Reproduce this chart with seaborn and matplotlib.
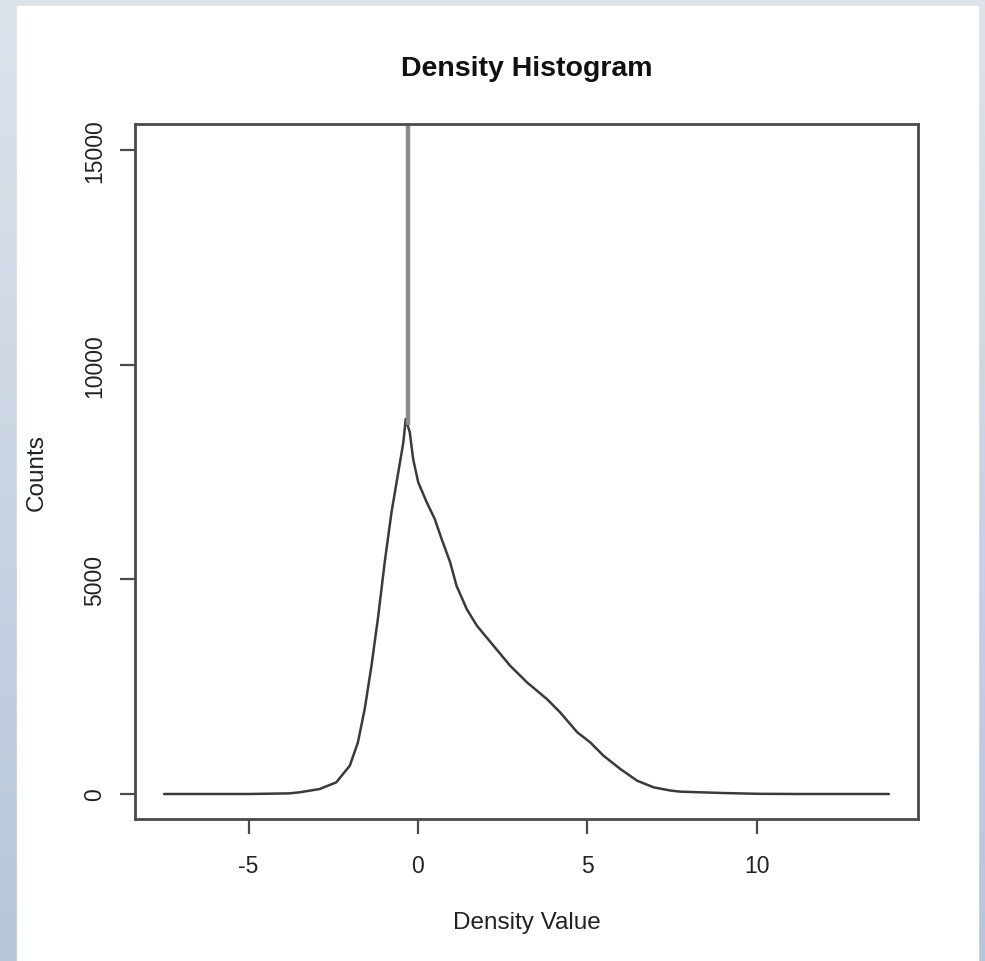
import numpy as np
import pandas as pd
import matplotlib
matplotlib.use("Agg")
import matplotlib.pyplot as plt
import seaborn as sns

# --- DATA ---
density_value = [-7.49, -5.0, -3.80, -3.49, -2.90, -2.41, -2.01, -1.77, -1.57,
                 -1.37, -1.17, -0.98, -0.78, -0.58, -0.43, -0.36, -0.24, -0.14,
                 0.01, 0.26, 0.50, 0.70, 0.95, 1.14, 1.44, 1.74, 2.23, 2.72,
                 3.22, 3.81, 4.20, 4.70, 5.09, 5.48, 5.98, 6.47, 6.96, 7.46,
                 7.75, 8.93, 10.0, 11.3, 13.9]
counts = [0, 0, 15, 40, 116, 272, 660, 1204, 1980,
          2990, 4150, 5400, 6560, 7490, 8190, 8735, 8425, 7800,
          7260, 6795, 6400, 5940, 5400, 4850, 4310, 3920, 3455, 2990,
          2600, 2210, 1900, 1440, 1200, 890, 580, 310, 155, 80,
          55, 25, 5, 0, 0]
spike_x = -0.29
spike_base = 8600
spike_top = 16500

x_ticks = [-5, 0, 5, 10]
y_ticks = [0, 5000, 10000, 15000]

df = pd.DataFrame({"Density Value": density_value, "Counts": counts})

# --- STYLE ---
sns.set_theme(style="ticks")
plt.rcParams['font.family'] = ['Liberation Sans', 'DejaVu Sans']

W, H = 985, 962
fig = plt.figure(figsize=(W / 100, H / 100), dpi=100)

# bluish outer background with white panel
bg = fig.add_axes([0, 0, 1, 1], zorder=-2)
grad = np.linspace(0, 1, 256).reshape(-1, 1)
cmap = matplotlib.colors.LinearSegmentedColormap.from_list("bg", ["#dde3eb", "#b6c6db"])
bg.imshow(grad, aspect="auto", cmap=cmap, extent=[0, 1, 0, 1], origin="upper")
bg.add_patch(plt.Rectangle((17 / W, 0), (978 - 17) / W, 1 - 7 / H,
                           transform=bg.transAxes, color="white"))
bg.set_xlim(0, 1)
bg.set_ylim(0, 1)
bg.axis("off")

ax = fig.add_axes([135 / W, 1 - 820 / H, (918 - 135) / W, (820 - 125) / H])
ax.set_facecolor("none")

sns.lineplot(data=df, x="Density Value", y="Counts", ax=ax,
             color="#3a3a3a", linewidth=1.8, sort=False)
ax.plot([spike_x, spike_x], [spike_base, spike_top], color="#8a8a8a",
        linewidth=3.2, solid_capstyle="butt")

ax.set_xlim(-8.35, 14.76)
ax.set_ylim(-582, 15606)
ax.set_xticks(x_ticks)
ax.set_yticks(y_ticks)
ax.set_xticklabels([str(v) for v in x_ticks])
ax.set_yticklabels([str(v) for v in y_ticks], rotation=90, va="center")

for s in ax.spines.values():
    s.set_visible(True)
    s.set_color("#4a4a4a")
    s.set_linewidth(2)

ax.tick_params(axis="both", direction="out", length=11, width=1.6,
               color="#4a4a4a", labelsize=16.5, labelcolor="#222222")
ax.tick_params(axis="x", pad=14)
ax.tick_params(axis="y", pad=10)

ax.set_xlabel("Density Value", fontsize=17.5, color="#222222", labelpad=25)
ax.set_ylabel("Counts", fontsize=17.5, color="#222222", labelpad=25)
ax.set_title("Density Histogram", fontsize=20.5, fontweight="bold",
             color="#111111", pad=35)

fig.savefig("out.png", dpi=100)
